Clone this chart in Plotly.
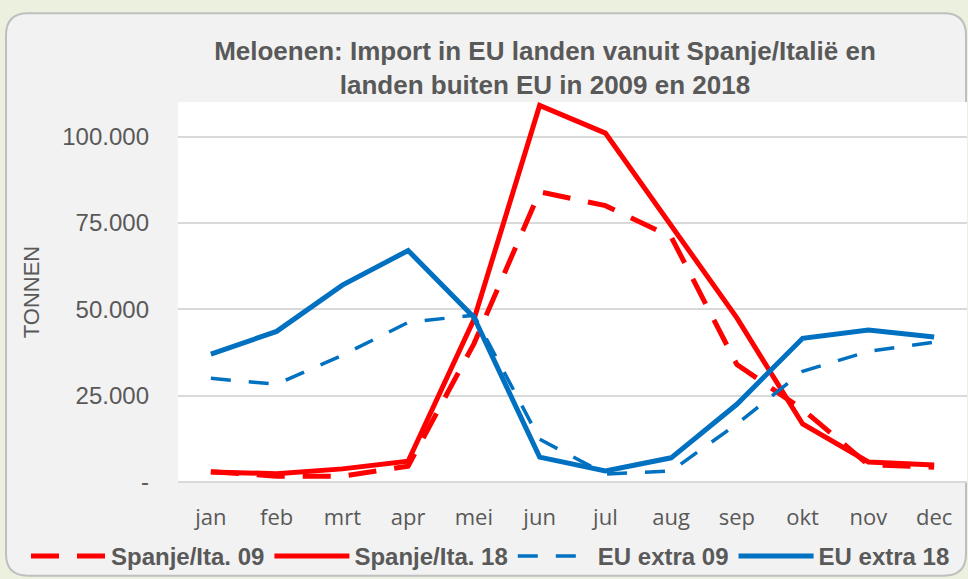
import plotly.graph_objects as go

months = ["jan", "feb", "mrt", "apr", "mei", "jun", "jul", "aug", "sep", "okt", "nov", "dec"]

spanje_09 = [3000, 1700, 1700, 4600, 40000, 84000, 80000, 71000, 34000, 21000, 5000, 4300]
spanje_18 = [2900, 2400, 3800, 6000, 47000, 109000, 101000, 74500, 47500, 16800, 5800, 4900]
eu_extra_09 = [30000, 28300, 36700, 46200, 48300, 12400, 2300, 3200, 16800, 32000, 37800, 40500]
eu_extra_18 = [37000, 43600, 57000, 67000, 47700, 7200, 3200, 7000, 22500, 41600, 44000, 42000]

y_ticks = [0, 25000, 50000, 75000, 100000]
y_tick_labels = ["-", "25.000", "50.000", "75.000", "100.000"]

RED = "#ff0000"
BLUE = "#0070c0"
GREY_TEXT = "#595959"
OUTER_BG = "#ebf1de"

W, H = 968, 579
L, R, T, B = 178, 1, 102, 96


def to_paper(px, py):
    # figure pixels -> paper coords (relative to plot area)
    return (px - L) / (W - L - R), (H - B - py) / (H - T - B)


def rounded_rect(x0, y0, x1, y1, r):
    def P(x, y):
        a, b = to_paper(x, y)
        return f"{a:.5f},{b:.5f}"
    return (f"M {P(x0 + r, y0)} L {P(x1 - r, y0)} Q {P(x1, y0)} {P(x1, y0 + r)} "
            f"L {P(x1, y1 - r)} Q {P(x1, y1)} {P(x1 - r, y1)} "
            f"L {P(x0 + r, y1)} Q {P(x0, y1)} {P(x0, y1 - r)} "
            f"L {P(x0, y0 + r)} Q {P(x0, y0)} {P(x0 + r, y0)} Z")


fig = go.Figure()
fig.add_trace(go.Scatter(x=months, y=spanje_09, name="Spanje/Ita. 09", mode="lines",
                         line=dict(color=RED, width=5, dash="28px,18px")))
fig.add_trace(go.Scatter(x=months, y=spanje_18, name="Spanje/Ita. 18", mode="lines",
                         line=dict(color=RED, width=5)))
fig.add_trace(go.Scatter(x=months, y=eu_extra_09, name="EU extra 09", mode="lines",
                         line=dict(color=BLUE, width=3.5, dash="20px,18px")))
fig.add_trace(go.Scatter(x=months, y=eu_extra_18, name="EU extra 18", mode="lines",
                         line=dict(color=BLUE, width=5)))

fig.update_layout(
    width=W, height=H,
    margin=dict(l=L, r=R, t=T, b=B),
    paper_bgcolor=OUTER_BG,
    plot_bgcolor="white",
    title=dict(
        text="Meloenen: Import in EU landen vanuit Spanje/Italië en<br>landen buiten EU in 2009 en 2018",
        font=dict(family="Liberation Sans, Arial", size=26, color=GREY_TEXT, weight="bold"),
        x=0.563, xanchor="center", y=1 - 60 / H, yanchor="middle",
    ),
    xaxis=dict(
        type="category", range=[-0.5, 11.5],
        tickfont=dict(family="Open Sans", size=22, color=GREY_TEXT),
        showgrid=False, showline=False, ticks="", ticklabelstandoff=20,
    ),
    yaxis=dict(
        range=[0, 110000],
        tickvals=y_ticks, ticktext=y_tick_labels,
        tickfont=dict(family="Liberation Sans, Arial", size=24, color=GREY_TEXT),
        gridcolor="#d9d9d9", gridwidth=1.5, zeroline=True, zerolinecolor="#d9d9d9", zerolinewidth=1.5,
        ticks="", ticklabelstandoff=28,
        title=dict(text="TONNEN", font=dict(family="Liberation Sans, Arial", size=22, color=GREY_TEXT),
                   standoff=16),
    ),
    legend=dict(
        orientation="h", x=to_paper(26, 0)[0], xanchor="left", y=to_paper(0, 557)[1], yanchor="middle",
        font=dict(family="Liberation Sans, Arial", size=24, color=GREY_TEXT, weight="bold"),
        bgcolor="rgba(0,0,0,0)", itemwidth=75,
    ),
    showlegend=True,
)

fig.add_shape(type="path", path=rounded_rect(6, 13, 966, 577, 22), xref="paper", yref="paper",
              fillcolor="#f2f2f2", line=dict(color="#bfbfbf", width=2), layer="below")
fig.add_shape(type="rect", x0=0, x1=1, y0=0, y1=1, xref="x domain", yref="y domain",
              fillcolor="white", line=dict(width=0), layer="below")

fig.write_html("out.html", config={"displayModeBar": False}, post_script=(
    "document.body.style.margin='0';"
    f"document.body.style.background='{OUTER_BG}';"
))
